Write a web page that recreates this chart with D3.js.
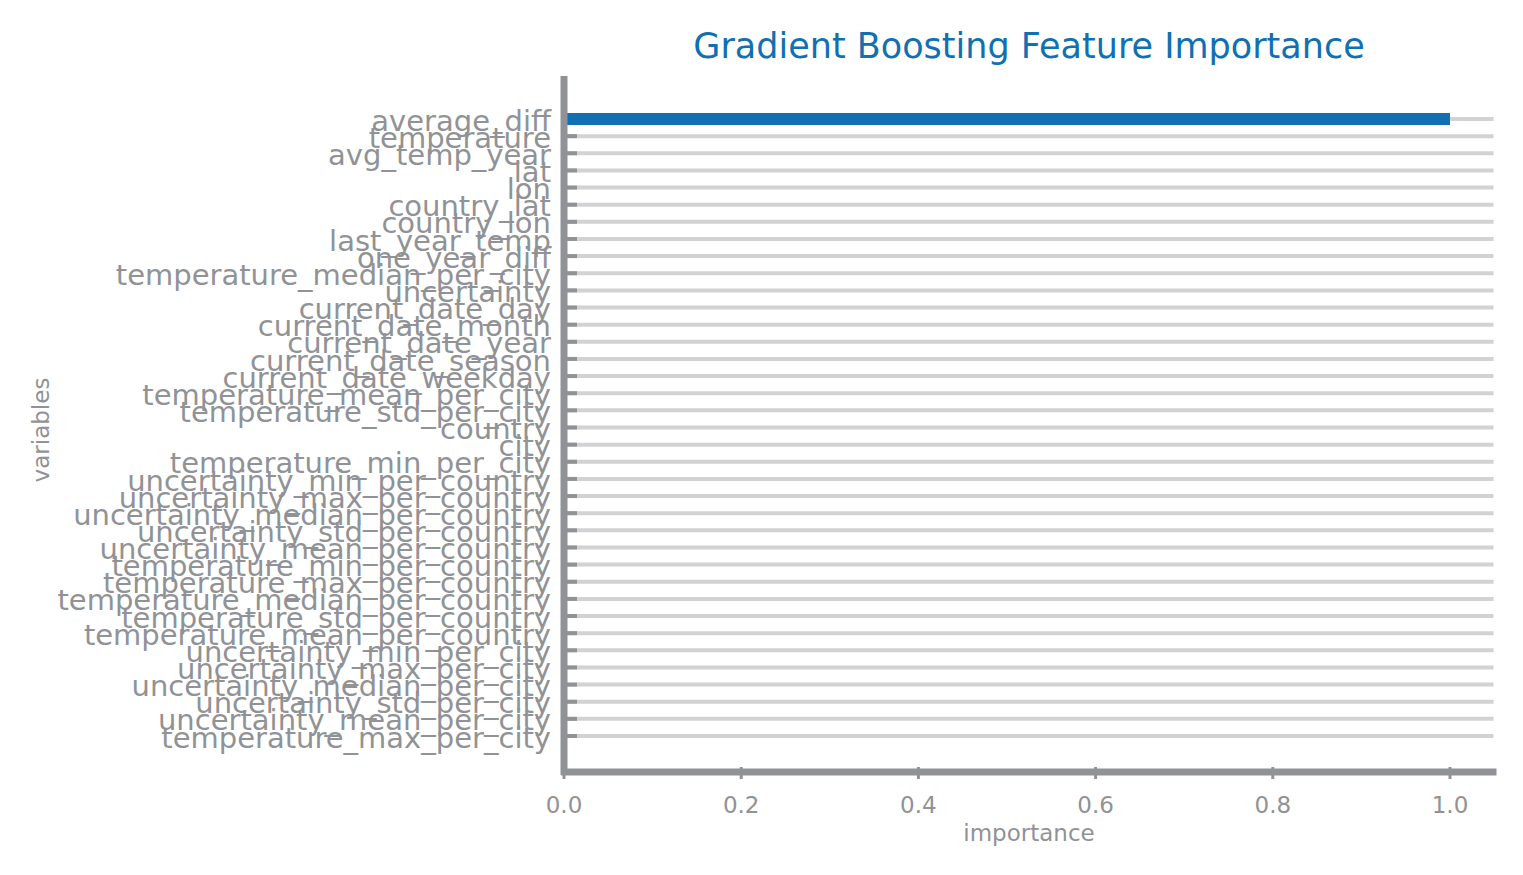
<!DOCTYPE html>
<html>
<head>
<meta charset="utf-8">
<script src="https://cdn.jsdelivr.net/npm/d3@7"></script>
<style>
  body { margin: 0; background: #fff; }
  text { font-family: "DejaVu Sans", sans-serif; }
</style>
</head>
<body>
<div id="chart"></div>
<script>
  // feature names, top to bottom
  var variables = [
    "average_diff", "temperature", "avg_temp_year", "lat", "lon", "country_lat", "country_lon",
    "last_year_temp", "one_year_diff", "temperature_median_per_city", "uncertainty",
    "current_date_day", "current_date_month", "current_date_year", "current_date_season",
    "current_date_weekday", "temperature_mean_per_city", "temperature_std_per_city", "country",
    "city", "temperature_min_per_city", "uncertainty_min_per_country", "uncertainty_max_per_country",
    "uncertainty_median_per_country", "uncertainty_std_per_country", "uncertainty_mean_per_country",
    "temperature_min_per_country", "temperature_max_per_country", "temperature_median_per_country",
    "temperature_std_per_country", "temperature_mean_per_country", "uncertainty_min_per_city",
    "uncertainty_max_per_city", "uncertainty_median_per_city", "uncertainty_std_per_city",
    "uncertainty_mean_per_city", "temperature_max_per_city"
  ];
  var importance = [1.0, 0, 0, 0, 0, 0, 0, 0, 0, 0, 0, 0, 0, 0, 0, 0, 0, 0, 0, 0, 0, 0, 0, 0, 0, 0, 0, 0, 0, 0, 0, 0, 0, 0, 0, 0, 0];
  var xTicks = [0, 0.2, 0.4, 0.6, 0.8, 1.0];

  var W = 1523, H = 875;
  var grey = "#909296";
  var blue = "#1070b2";

  var svg = d3.select("#chart").append("svg")
    .attr("width", W)
    .attr("height", H);

  var x = d3.scaleLinear().domain([0, 1]).range([564, 1450]);
  var y = d3.scalePoint().domain(variables).range([119, 736]);

  // grid lines
  svg.append("g").selectAll("line")
    .data(variables)
    .enter().append("line")
    .attr("x1", x(0)).attr("x2", x(1.0525) - 3)
    .attr("y1", function(d) { return y(d); })
    .attr("y2", function(d) { return y(d); })
    .style("stroke", "#d2d2d4")
    .style("stroke-width", 4);

  // y ticks
  var yg = svg.append("g");
  yg.selectAll("line")
    .data(variables)
    .enter().append("line")
    .attr("x1", x(0)).attr("x2", x(0) + 13)
    .attr("y1", function(d) { return y(d); })
    .attr("y2", function(d) { return y(d); })
    .style("stroke", grey).style("stroke-width", 4);

  // bars
  svg.append("g").selectAll("rect")
    .data(importance)
    .enter().append("rect")
    .attr("x", x(0))
    .attr("y", function(d, i) { return y(variables[i]) - 6; })
    .attr("width", function(d) { return x(d) - x(0); })
    .attr("height", 12)
    .style("fill", blue);

  yg.selectAll("text")
    .data(variables)
    .enter().append("text")
    .attr("x", 551)
    .attr("y", function(d) { return y(d); })
    .attr("dy", "0.4em")
    .attr("text-anchor", "end")
    .style("font-size", "29px")
    .style("fill", grey)
    .text(function(d) { return d; });

  // x ticks
  var xg = svg.append("g");
  xg.selectAll("line")
    .data(xTicks)
    .enter().append("line")
    .attr("x1", function(d) { return x(d); })
    .attr("x2", function(d) { return x(d); })
    .attr("y1", 767).attr("y2", 779)
    .style("stroke", grey).style("stroke-width", 3);
  xg.selectAll("text")
    .data(xTicks)
    .enter().append("text")
    .attr("x", function(d) { return x(d); })
    .attr("y", 813)
    .attr("text-anchor", "middle")
    .style("font-size", "23px")
    .style("fill", grey)
    .text(function(d) { return d.toFixed(1); });

  // axis spines
  svg.append("line")
    .attr("x1", x(0)).attr("x2", x(0))
    .attr("y1", 76).attr("y2", 775)
    .style("stroke", grey).style("stroke-width", 7);
  svg.append("line")
    .attr("x1", x(0) - 3).attr("x2", x(1.0525))
    .attr("y1", 772).attr("y2", 772)
    .style("stroke", grey).style("stroke-width", 7);

  // titles
  svg.append("text")
    .attr("x", 1029).attr("y", 58)
    .attr("text-anchor", "middle")
    .style("font-size", "35px")
    .style("fill", blue)
    .text("Gradient Boosting Feature Importance");
  svg.append("text")
    .attr("x", 1029).attr("y", 841)
    .attr("text-anchor", "middle")
    .style("font-size", "23px")
    .style("fill", grey)
    .text("importance");
  svg.append("text")
    .attr("transform", "translate(49,430) rotate(-90)")
    .attr("text-anchor", "middle")
    .style("font-size", "23px")
    .style("fill", grey)
    .text("variables");
</script>
</body>
</html>
